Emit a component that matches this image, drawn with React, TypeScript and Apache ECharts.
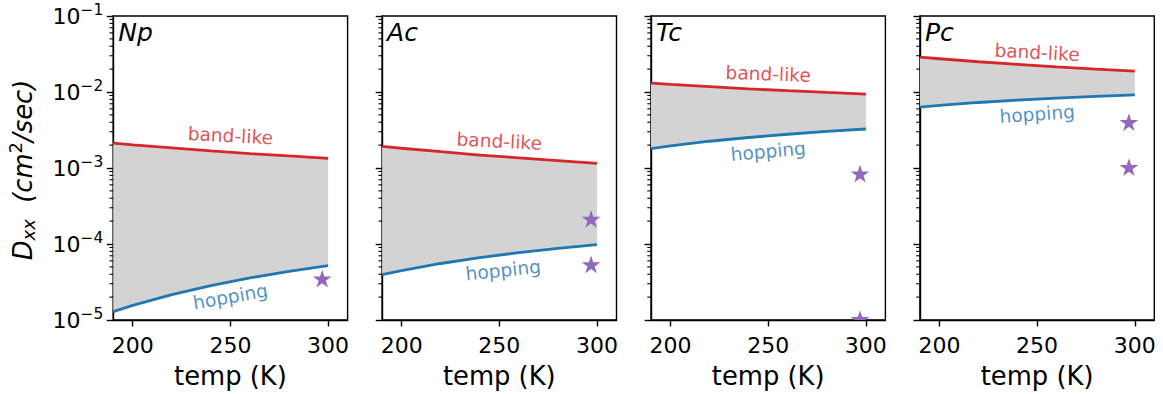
import React, { useEffect, useRef } from 'react';
import * as echarts from 'echarts';

// ---------- data ----------
const panelNames = ['Np', 'Ac', 'Tc', 'Pc'];
const temps = [190, 200, 220, 240, 260, 280, 300];
const bandNp = [2.13e-3, 2.02e-3, 1.84e-3, 1.68e-3, 1.55e-3, 1.44e-3, 1.34e-3];
const hopNp = [1.29e-5, 1.56e-5, 2.16e-5, 2.84e-5, 3.58e-5, 4.37e-5, 5.19e-5];
const bandAc = [1.93e-3, 1.82e-3, 1.64e-3, 1.48e-3, 1.36e-3, 1.25e-3, 1.15e-3];
const hopAc = [3.95e-5, 4.47e-5, 5.54e-5, 6.62e-5, 7.7e-5, 8.77e-5, 9.8e-5];
const bandTc = [1.31e-2, 1.26e-2, 1.18e-2, 1.1e-2, 1.04e-2, 9.86e-3, 9.38e-3];
const hopTc = [1.8e-3, 1.95e-3, 2.25e-3, 2.52e-3, 2.78e-3, 3.03e-3, 3.26e-3];
const bandPc = [2.87e-2, 2.74e-2, 2.5e-2, 2.31e-2, 2.14e-2, 2.0e-2, 1.88e-2];
const hopPc = [6.34e-3, 6.67e-3, 7.28e-3, 7.82e-3, 8.32e-3, 8.77e-3, 9.18e-3];
const expTemp = 297;
const expNp = [3.4e-5];
const expAc = [2.08e-4, 5.24e-5];
const expTc = [8.2e-4, 1.0e-5];
const expPc = [3.9e-3, 1.0e-3];
const bandLabelAt = [[250, 2.66e-3], [250, 2.25e-3], [250, 1.73e-2], [250, 3.32e-2]];
const hopLabelAt = [[250, 2.03e-5], [252, 4.53e-5], [250, 1.66e-3], [250, 5.14e-3]];
const xTicks = [200, 250, 300];
const yDecades = [1e-5, 1e-4, 1e-3, 1e-2, 1e-1];
const yMinor: number[] = [];
for (let e = -5; e <= -2; e++) for (let m = 2; m <= 9; m++) yMinor.push(m * Math.pow(10, e));

const bands = [bandNp, bandAc, bandTc, bandPc];
const hops = [hopNp, hopAc, hopTc, hopPc];
const exps = [expNp, expAc, expTc, expPc];

// ---------- style ----------
const FONT = 'DejaVu Sans';
const RED = '#d62728';
const BLUE = '#1f77b4';
const PURPLE = '#9467bd';
const FILL = '#d3d3d3';
const LEFT0 = 113.2;
const STEP = 268.9;
const GW = 234.4;
const GTOP = 16;
const GH = 305;
const X_MIN = 190;
const bandRot = [-3, -3, -2, -3];
const hopRot = [10, 6, 5, 4];
const STAR = 'M0,-1L0.2245,-0.309L0.9511,-0.309L0.3633,0.118L0.5878,0.809L0,0.382L-0.5878,0.809L-0.3633,0.118L-0.9511,-0.309L-0.2245,-0.309Z';
const STAR_R = 9.8;
const MINOR_LEN = 3.7;

function buildOption() {
  const grid: any[] = [];
  const xAxis: any[] = [];
  const yAxis: any[] = [];
  const series: any[] = [];
  const graphic: any[] = [];

  panelNames.forEach((name, i) => {
    const left = LEFT0 + i * STEP;
    grid.push({
      left, top: GTOP, width: GW, height: GH,
      show: true, borderColor: '#000', borderWidth: 1.4, backgroundColor: 'transparent',
    });
    xAxis.push({
      type: 'value', gridIndex: i, min: X_MIN, max: 310,
      axisLine: { show: true, lineStyle: { color: '#000', width: 1.4 } },
      axisTick: { show: true, customValues: xTicks, length: 6.4, lineStyle: { color: '#000', width: 1.4 } },
      axisLabel: { customValues: xTicks, fontSize: 22, fontFamily: FONT, color: '#000', margin: 14 },
      splitLine: { show: false },
      name: 'temp (K)', nameLocation: 'middle', nameGap: 43,
      nameTextStyle: { fontSize: 25.8, fontFamily: FONT, color: '#000' },
    });
    yAxis.push({
      type: 'log', logBase: 10, gridIndex: i, min: 1e-5, max: 1e-1,
      axisLine: { show: true, lineStyle: { color: '#000', width: 1.4 } },
      axisTick: { show: true, customValues: yDecades, length: 6.4, lineStyle: { color: '#000', width: 1.4 } },
      axisLabel: {
        show: i === 0, margin: 10, customValues: yDecades,
        formatter: (v: number) => `{b|10}{s|\u2212${-Math.round(Math.log10(v))}}`,
        rich: {
          b: { fontSize: 22, fontFamily: FONT, color: '#000' },
          s: { fontSize: 15.4, fontFamily: FONT, color: '#000', padding: [0, 0, 13, 0] },
        },
      },
      splitLine: { show: false },
    });

    const band = bands[i];
    const hop = hops[i];
    // minor log ticks (2..9 x 10^n), drawn through the axis scale
    series.push({
      type: 'custom', xAxisIndex: i, yAxisIndex: i, z: 6, silent: true, clip: false,
      data: yMinor.map((v) => [X_MIN, v]),
      renderItem: (_p: any, api: any) => {
        const c = api.coord([api.value(0), api.value(1)]);
        return {
          type: 'line',
          shape: { x1: c[0] - MINOR_LEN, y1: c[1], x2: c[0], y2: c[1] },
          style: { stroke: '#000', lineWidth: 1.1 },
        };
      },
    });
    series.push({
      type: 'custom', xAxisIndex: i, yAxisIndex: i, z: 1, silent: true,
      data: [[temps[0], band[0]]],
      renderItem: (_p: any, api: any) => {
        const pts: number[][] = [];
        temps.forEach((t, k) => pts.push(api.coord([t, band[k]])));
        for (let k = temps.length - 1; k >= 0; k--) pts.push(api.coord([temps[k], hop[k]]));
        return { type: 'polygon', shape: { points: pts }, style: { fill: FILL } };
      },
    });
    series.push({
      type: 'line', xAxisIndex: i, yAxisIndex: i, z: 3, silent: true,
      data: temps.map((t, k) => [t, band[k]]), symbol: 'none',
      lineStyle: { color: RED, width: 2.8 },
    });
    series.push({
      type: 'line', xAxisIndex: i, yAxisIndex: i, z: 3, silent: true,
      data: temps.map((t, k) => [t, hop[k]]), symbol: 'none',
      lineStyle: { color: BLUE, width: 2.8 },
    });
    series.push({
      type: 'custom', xAxisIndex: i, yAxisIndex: i, z: 4, silent: true, clip: true,
      data: exps[i].map((v) => [expTemp, v]),
      renderItem: (_p: any, api: any) => {
        const c = api.coord([api.value(0), api.value(1)]);
        const w = 1.9022 * STAR_R;
        const h = 1.809 * STAR_R;
        return {
          type: 'path',
          shape: { pathData: STAR, x: c[0] - w / 2, y: c[1] - STAR_R, width: w, height: h, layout: 'cover' },
          style: { fill: PURPLE },
        };
      },
    });
    series.push({
      type: 'scatter', xAxisIndex: i, yAxisIndex: i, z: 5, silent: true,
      symbolSize: 0, data: [bandLabelAt[i]],
      label: { show: true, position: 'inside', formatter: 'band-like', rotate: bandRot[i], color: RED, fontSize: 18.6, fontFamily: FONT },
    });
    series.push({
      type: 'scatter', xAxisIndex: i, yAxisIndex: i, z: 5, silent: true,
      symbolSize: 0, data: [hopLabelAt[i]],
      label: { show: true, position: 'inside', formatter: 'hopping', rotate: hopRot[i], color: BLUE, fontSize: 18.6, fontFamily: FONT },
    });

    graphic.push({
      type: 'text', x: left + 5, y: 32, z: 10,
      style: { text: name, fontSize: 25, fontStyle: 'italic', fontFamily: FONT, fill: '#000', textAlign: 'left', textVerticalAlign: 'middle' },
    });
  });

  graphic.push({
    type: 'text', x: 23, y: 170, rotation: Math.PI / 2, z: 10,
    style: {
      text: '{d|D}{sub|xx}{n|  (cm}{sup|2}{n|/sec)}',
      textAlign: 'center', textVerticalAlign: 'middle',
      rich: {
        d: { fontSize: 25.8, fontStyle: 'italic', fontFamily: FONT, fill: '#000' },
        sub: { fontSize: 18, fontStyle: 'italic', fontFamily: FONT, fill: '#000', padding: [10, 0, 0, 0] },
        n: { fontSize: 25.8, fontStyle: 'italic', fontFamily: FONT, fill: '#000' },
        sup: { fontSize: 18, fontFamily: FONT, fill: '#000', padding: [0, 0, 16, 0] },
      },
    },
  });

  return { animation: false, grid, xAxis, yAxis, series, graphic };
}

export default function App() {
  const ref = useRef<HTMLDivElement>(null);
  useEffect(() => {
    if (!ref.current) return;
    const chart = echarts.init(ref.current, undefined, { renderer: 'svg' });
    chart.setOption(buildOption() as any);
    return () => chart.dispose();
  }, []);
  return (
    <div
      ref={ref}
      style={{ position: 'fixed', left: 0, top: 0, width: 1163, height: 394, background: '#fff' }}
    />
  );
}
